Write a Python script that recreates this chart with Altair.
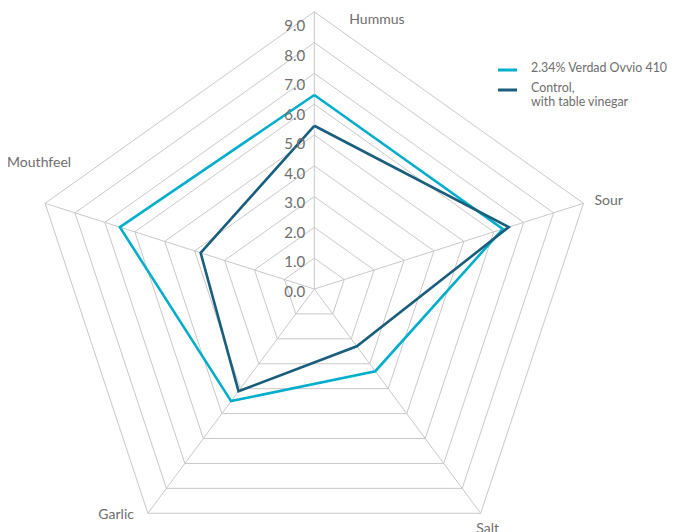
import math
import altair as alt
import pandas as pd

# ---- data ----
axes = ["Hummus", "Sour", "Salt", "Garlic", "Mouthfeel"]
series_names = ["2.34% Verdad Ovvio 410", "Control,\nwith table vinegar"]
verdad = [6.3, 6.3, 3.3, 4.5, 6.5]
control = [5.3, 6.5, 2.3, 4.1, 3.8]
tick_values = [0, 1, 2, 3, 4, 5, 6, 7, 8, 9]
tick_labels = ["0.0", "1.0", "2.0", "3.0", "4.0", "5.0", "6.0", "7.0", "8.0", "9.0"]
colors = ["#00AECB", "#1A5E7E"]

# ---- layout ----
UX, UY = 31.45, 30.8     # pixels per unit (horizontal, vertical)
CX, CY = 314.3, 289.0
W, H = 662, 524
RMAX = 9
GRID = "#c8c8c8"
TXT = "#6e6e6e"
FONT = "Lato"

xdom = [(8 - CX) / UX, (8 + W - CX) / UX]
ydom = [(CY - 8 - H) / UY, (CY - 8) / UY]
xs = alt.Scale(domain=xdom, nice=False, zero=False)
ys = alt.Scale(domain=ydom, nice=False, zero=False)


def ang(i):
    return math.radians(90 - 72 * i)


def X(field):
    return alt.X(field, type="quantitative", scale=xs, axis=None)


def Y(field):
    return alt.Y(field, type="quantitative", scale=ys, axis=None)


# grid rings
rows = []
for r in tick_values[1:]:
    for k in range(6):
        i = k % 5
        rows.append({"ring": r, "k": k, "x": r * math.cos(ang(i)), "y": r * math.sin(ang(i))})
grid_df = pd.DataFrame(rows)
grid = alt.Chart(grid_df).mark_line(color=GRID, strokeWidth=1).encode(
    x=X("x"), y=Y("y"), detail="ring:N", order="k:Q"
)

# spokes
spk_df = pd.DataFrame([
    {"x": 0.0, "y": 0.0, "x2": RMAX * math.cos(ang(i)), "y2": RMAX * math.sin(ang(i))}
    for i in range(5)
])
spokes = alt.Chart(spk_df).mark_rule(color=GRID, strokeWidth=1).encode(
    x=X("x"), y=Y("y"), x2="x2:Q", y2="y2:Q"
)

# series polygons
layers = [grid, spokes]
for s, (name, vals) in enumerate(zip(series_names, [verdad, control])):
    rows = []
    for k in range(6):
        i = k % 5
        rows.append({"k": k, "x": vals[i] * math.cos(ang(i)), "y": vals[i] * math.sin(ang(i))})
    df = pd.DataFrame(rows)
    layers.append(
        alt.Chart(df).mark_line(color=colors[s], strokeWidth=2.6, strokeJoin="miter").encode(
            x=X("x"), y=Y("y"), order="k:Q"
        )
    )

# tick labels along top axis (labels sit a little below their rings)
tick_df = pd.DataFrame({"v": tick_values, "label": tick_labels})
tick_df["x"] = 0.0
tick_df["y"] = tick_df["v"] - (3 + 1.25 * tick_df["v"]) / UY
ticks = alt.Chart(tick_df).mark_text(
    align="right", baseline="middle", dx=-9, font=FONT, fontSize=15, color=TXT
).encode(x=X("x"), y=Y("y"), text="label:N")
layers.append(ticks)

# axis labels
label_layout = {
    "Hummus": dict(align="left", dx=35, dy=8),
    "Sour": dict(align="left", dx=11, dy=-2),
    "Salt": dict(align="center", dx=7, dy=16),
    "Garlic": dict(align="right", dx=-14, dy=2),
    "Mouthfeel": dict(align="right", dx=26, dy=-40),
}
for i, a in enumerate(axes):
    df = pd.DataFrame([{"x": RMAX * math.cos(ang(i)), "y": RMAX * math.sin(ang(i)), "t": a}])
    lay = label_layout[a]
    layers.append(
        alt.Chart(df).mark_text(baseline="middle", font=FONT, fontSize=14, color=TXT, **lay).encode(
            x=X("x"), y=Y("y"), text="t:N"
        )
    )

# legend (manual)
leg_x0 = (498 - CX) / UX
leg_x1 = (517 - CX) / UX
leg_tx = (531 - CX) / UX
leg_y = [(CY - 70) / UY, (CY - 90) / UY]
for s in range(2):
    lines = series_names[s].split("\n")
    df = pd.DataFrame([{"x": leg_x0, "x2": leg_x1, "y": leg_y[s], "tx": leg_tx}])
    layers.append(
        alt.Chart(df).mark_rule(color=colors[s], strokeWidth=3).encode(x=X("x"), x2="x2:Q", y=Y("y"))
    )
    for j, line in enumerate(lines):
        tdf = pd.DataFrame([{"tx": leg_tx, "y": leg_y[s], "t": line}])
        layers.append(
            alt.Chart(tdf).mark_text(
                align="left", baseline="middle", dy=-2 + 14 * j, font=FONT, fontSize=12.4, color=TXT
            ).encode(x=X("tx"), y=Y("y"), text="t:N")
        )

chart = alt.layer(*layers).properties(
    width=W, height=H, padding=0, autosize=alt.AutoSizeParams(type="none")
).configure_view(stroke=None)

chart.save("out.html", embed_options={"renderer": "svg", "actions": False})
